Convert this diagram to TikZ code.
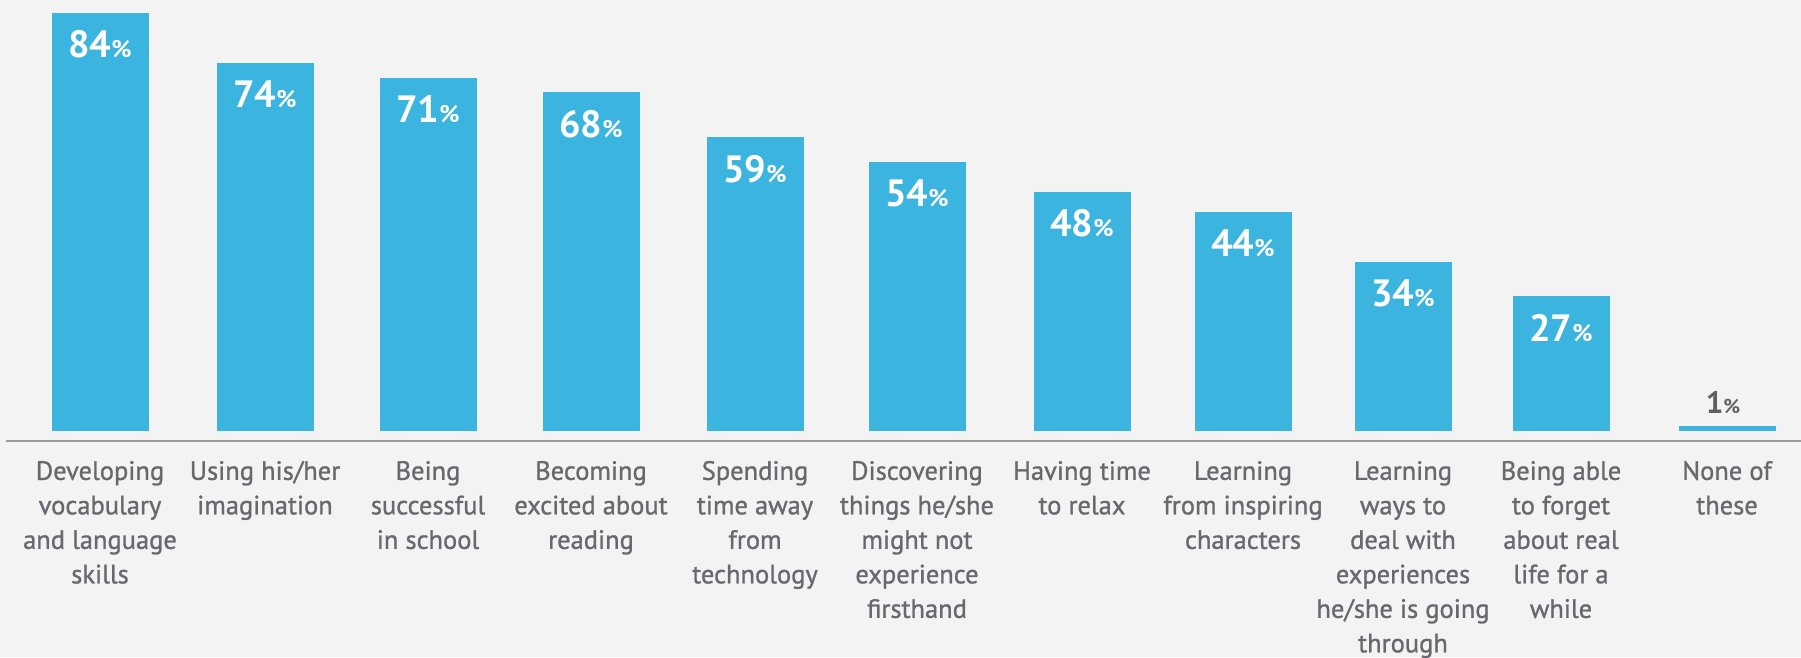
\documentclass[tikz,border=0pt]{standalone}
\usepackage{fontspec}
\setmainfont{PT Sans}
\newfontfamily\labfont{PT Sans}[FakeBold=1]
\definecolor{barblue}{RGB}{59,181,223}
\definecolor{bggray}{RGB}{243,243,243}
\definecolor{labgray}{RGB}{104,105,110}
\definecolor{onegray}{RGB}{95,95,100}
\definecolor{axisgray}{RGB}{155,155,155}
\tikzset{
	bar/.style={fill=barblue, draw=none, inner sep=0pt, minimum width=97pt, anchor=south},
	pct/.style={text=white, font=\bfseries, anchor=base, inner sep=0pt},
	catlabel/.style={text=labgray, font=\labfont\fontsize{26.5}{34.5}\selectfont, align=center, anchor=north, inner sep=0pt},
}
\newcommand{\pctval}[3]{{\fontsize{#2}{#2}\selectfont #1}{\fontsize{#3}{#3}\selectfont\%}}
\begin{document}
\begin{tikzpicture}[x=1pt,y=1pt]
			\fill [bggray] (0,0) rectangle (1801,657);
			\useasboundingbox (0,0) rectangle (1801,657);
			% axis
			\coordinate (axisL) at (6,216);
			\coordinate (axisR) at (1801,216);
			\draw [axisgray, line width=2.5pt] (axisL) -- (axisR);
			% bars
			\foreach \cx/\val/\txt [count=\i] in {
				100/84/{Developing\\vocabulary\\and language\\skills},
				265/74/{Using his/her\\imagination},
				428/71/{Being\\successful\\in school},
				591/68/{Becoming\\excited about\\reading},
				755/59/{Spending\\time away\\from\\technology},
				917/54/{Discovering\\things he/she\\might not\\experience\\firsthand},
				1082/48/{Having time\\to relax},
				1243/44/{Learning\\from inspiring\\characters},
				1403/34/{Learning\\ways to\\deal with\\experiences\\he/she is going\\through},
				1561/27/{Being able\\to forget\\about real\\life for a\\while}} {
				\node (bar\i) [bar, minimum height=\val*4.975pt] at (\cx,226) {};
				\node (pct\i) [pct] at ([yshift=-45pt]bar\i.north) {\pctval{\val}{38}{24}};
				\node (lab\i) [catlabel] at (\cx,201.5) {\strut\txt};
			}
			% none of these
			\node (bar11) [bar, minimum height=4.975pt] at (1727,226) {};
			\node (pct11) [pct, text=onegray] at (1723,244) {\pctval{1}{31}{20}};
			\node (lab11) [catlabel] at (1727,201.5) {\strut None of\\these};
		\end{tikzpicture}
\end{document}
